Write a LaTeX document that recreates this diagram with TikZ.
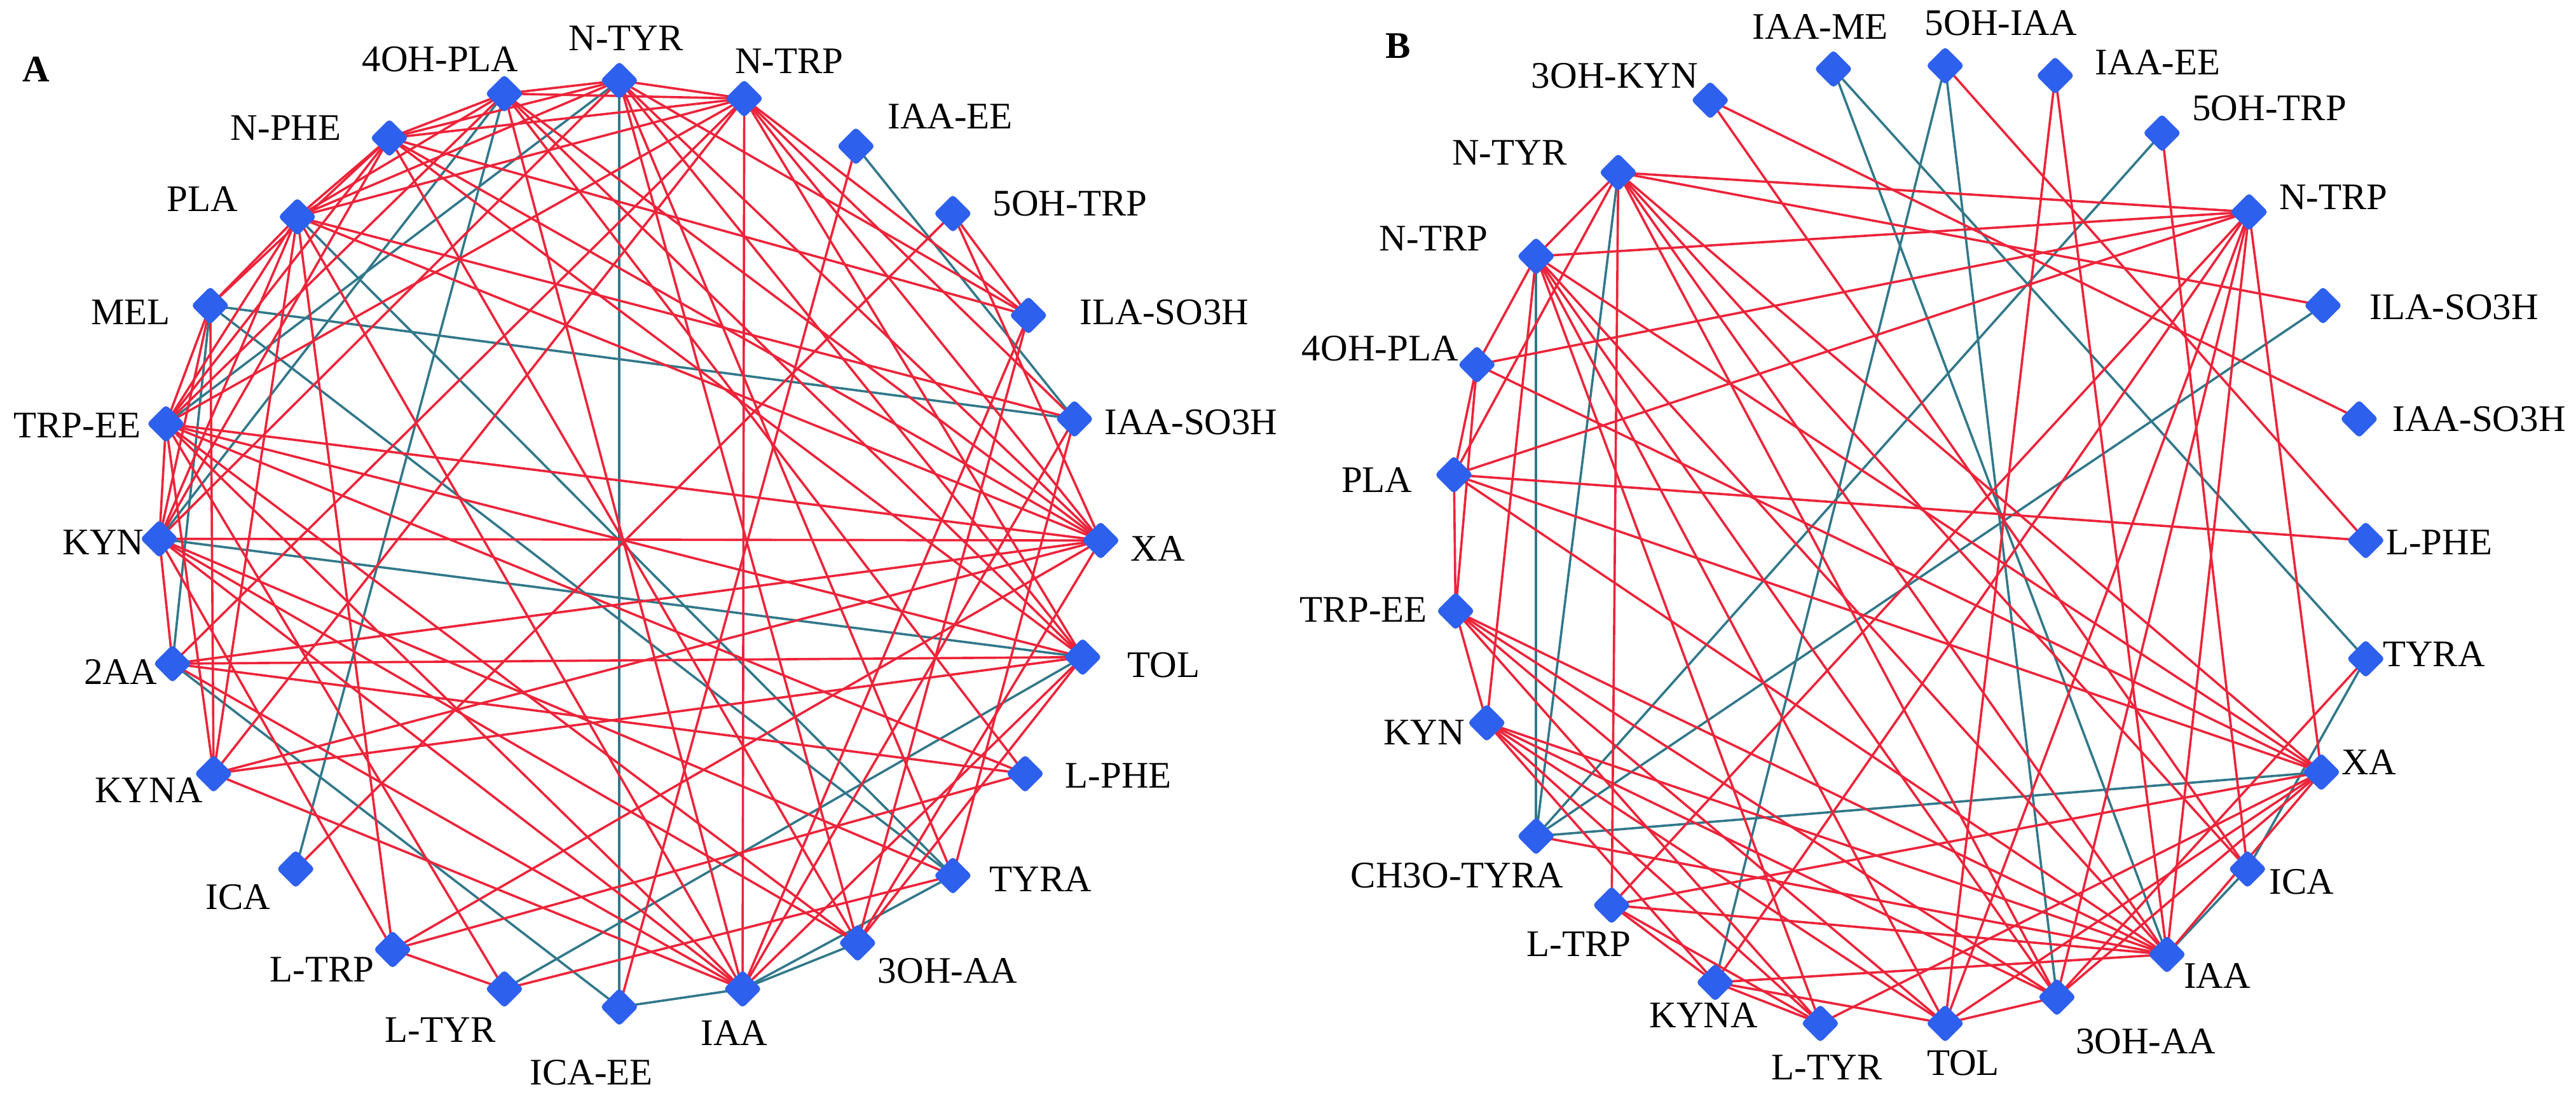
\documentclass[tikz,border=0pt]{standalone}
\usepackage{fontspec}
\setmainfont{Liberation Serif}
\usetikzlibrary{shapes.geometric,backgrounds}

\definecolor{nodeblue}{RGB}{46,96,238}
\definecolor{linkred}{RGB}{236,36,58}
\definecolor{linkteal}{RGB}{50,120,138}

\tikzset{
  met/.style={diamond,fill=nodeblue,inner sep=0pt,rounded corners=1.2pt,minimum width=0.47cm,minimum height=0.47cm},
  lab/.style={inner sep=0pt,font=\fontsize{13}{15}\selectfont},
  panel/.style={inner sep=0pt,font=\fontsize{13}{15}\selectfont\bfseries},
  poslink/.style={draw=linkred,line width=0.8pt},
  neglink/.style={draw=linkteal,line width=0.8pt}
}

\begin{document}
\begin{tikzpicture}[x=0.02cm,y=-0.02cm]
\useasboundingbox (0,0) rectangle (1568,670);

% panel A
\node[panel] (pA) at (22,42) {A};
\foreach \n/\x/\y/\lx/\ly/\an/\t in {
  aNTYR/377/49/381/31/south/N-TYR,
  aNTRP/453/60/447/45/south west/N-TRP,
  aIAAEE/521/89/540/71/west/IAA-EE,
  aOHTRP/580/130/604/124/west/5OH-TRP,
  aILA/626/192/657/190/west/ILA-SO3H,
  aIAASO/654/255/672/257/west/IAA-SO3H,
  aXA/670/329/688/334/west/XA,
  aTOL/659/400/686/405/west/TOL,
  aLPHE/624/471/648/472/west/L-PHE,
  aTYRA/580/533/602/535/west/TYRA,
  aOHAA/522/574/534/591/west/3OH-AA,
  aIAA/452/602/447/621/north/IAA,
  aICAEE/377/613/360/645/north/ICA-EE,
  aLTYR/307/602/268/619/north/L-TYR,
  aLTRP/239/578/228/590/east/L-TRP,
  aICA/180/529/145/538/north/ICA,
  aKYNA/130/471/124/481/east/KYNA,
  aAA/105/404/96/409/east/2AA,
  aKYN/97/328/88/330/east/KYN,
  aTRPEE/101/258/86/259/east/TRP-EE,
  aMEL/128/186/104/190/east/MEL,
  aPLA/181/132/145/121/east/PLA,
  aNPHE/237/84/208/78/east/N-PHE,
  aOHPLA/307/57/268/44/south/4OH-PLA}{
  \node[met] (\n) at (\x,\y) {};
  \node[lab,anchor=\an] (l\n) at (\lx,\ly) {\t};
}

% panel B
\node[panel] (pB) at (851,28) {B};
\foreach \n/\x/\y/\lx/\ly/\an/\t in {
  bOHKYN/1041/61/1034/54/south east/3OH-KYN,
  bIAAME/1116/42/1108/24/south/IAA-ME,
  bOHIAA/1184/40/1218/22/south/5OH-IAA,
  bIAAEE/1251/46/1275/38/west/IAA-EE,
  bOHTRP/1316/81/1334/66/west/5OH-TRP,
  bNTRPr/1369/129/1387/120/west/N-TRP,
  bILA/1414/186/1442/187/west/ILA-SO3H,
  bIAASO/1436/255/1456/255/west/IAA-SO3H,
  bLPHE/1440/329/1452/330/west/L-PHE,
  bTYRA/1440/401/1450/398/west/TYRA,
  bXA/1413/470/1425/464/west/XA,
  bICA/1368/529/1381/537/west/ICA,
  bIAA/1319/581/1329/594/west/IAA,
  bOHAA/1252/607/1306/626/north/3OH-AA,
  bTOL/1184/623/1195/639/north/TOL,
  bLTYR/1108/623/1112/642/north/L-TYR,
  bKYNA/1044/598/1037/610/north/KYNA,
  bLTRP/981/551/961/567/north/L-TRP,
  bCHO/935/509/887/525/north/CH3O-TYRA,
  bKYN/905/440/892/446/east/KYN,
  bTRPEE/886/372/869/371/east/TRP-EE,
  bPLA/885/289/860/292/east/PLA,
  bOHPLA/899/222/888/212/east/4OH-PLA,
  bNTRPl/935/156/906/145/east/N-TRP,
  bNTYR/985/105/954/93/east/N-TYR}{
  \node[met] (\n) at (\x,\y) {};
  \node[lab,anchor=\an] (l\n) at (\lx,\ly) {\t};
}

\begin{scope}[on background layer]
% negative links
\foreach \a/\b in {aNTYR/aICAEE, aMEL/aIAASO, aKYN/aTOL, aIAAEE/aIAASO,
  aOHPLA/aICA, aPLA/aTYRA, aMEL/aTYRA, aMEL/aAA, aAA/aICAEE, aLTYR/aTOL,
  aICAEE/aIAA, aIAA/aOHAA, aIAA/aTYRA, aNTYR/aTRPEE, aOHPLA/aKYN,
  bNTRPl/bCHO, bNTYR/bCHO, bOHTRP/bCHO, bILA/bCHO, bCHO/bXA,
  bIAAME/bIAA, bIAAME/bTYRA, bOHIAA/bKYNA, bOHIAA/bOHAA, bIAA/bICA,
  bICA/bTYRA}
  \draw[neglink] (\a.center) -- (\b.center);
% positive links
\foreach \a/\b in {aNTYR/aOHPLA, aNTYR/aNTRP, aNTYR/aNPHE, aNTYR/aPLA,
  aNTYR/aKYN, aNTYR/aXA, aNTYR/aTOL, aNTYR/aTYRA, aNTYR/aOHAA, aNTYR/aILA,
  aNTRP/aOHPLA, aNTRP/aNPHE, aNTRP/aPLA, aNTRP/aTRPEE, aNTRP/aIAA,
  aNTRP/aILA, aNTRP/aXA, aNTRP/aTOL, aNTRP/aAA, aNTRP/aIAASO, aNTRP/aKYNA,
  aOHPLA/aNPHE, aOHPLA/aXA, aOHPLA/aTOL, aOHPLA/aIAA, aOHPLA/aLPHE,
  aOHPLA/aTRPEE, aOHPLA/aPLA,
  aNPHE/aPLA, aNPHE/aXA, aNPHE/aTOL, aNPHE/aOHAA, aNPHE/aMEL,
  aNPHE/aTRPEE, aNPHE/aKYN, aNPHE/aILA,
  aPLA/aMEL, aPLA/aTRPEE, aPLA/aKYN, aPLA/aXA, aPLA/aIAA, aPLA/aLTRP,
  aPLA/aIAASO,
  aMEL/aTRPEE, aMEL/aKYN, aMEL/aKYNA,
  aTRPEE/aKYN, aTRPEE/aXA, aTRPEE/aTOL, aTRPEE/aLPHE, aTRPEE/aOHAA,
  aTRPEE/aKYNA, aTRPEE/aIAA, aTRPEE/aLTYR,
  aKYN/aXA, aKYN/aAA, aKYN/aLTRP, aKYN/aTYRA, aKYN/aOHAA, aKYN/aIAA,
  aAA/aXA, aAA/aTOL, aAA/aIAA, aAA/aLPHE,
  aKYNA/aXA, aKYNA/aTOL, aKYNA/aIAA, aKYNA/aPLA,
  aLTRP/aLTYR, aLTRP/aLPHE, aLTRP/aXA, aLTYR/aTYRA,
  aICA/aOHTRP, aIAAEE/aICAEE, aOHTRP/aILA, aOHTRP/aXA,
  aILA/aOHAA, aILA/aIAA, aIAASO/aTYRA, aIAASO/aIAA,
  aXA/aOHAA, aTOL/aOHAA, aTOL/aIAA,
  bNTYR/bNTRPr, bNTYR/bILA, bNTYR/bNTRPl, bNTYR/bPLA, bNTYR/bLTRP,
  bNTYR/bXA, bNTYR/bICA, bNTYR/bOHAA, bNTYR/bIAA,
  bOHKYN/bIAASO, bOHKYN/bICA, bIAAEE/bTOL, bIAAEE/bIAA,
  bOHIAA/bLPHE, bOHTRP/bICA,
  bNTRPr/bNTRPl, bNTRPr/bOHPLA, bNTRPr/bPLA, bNTRPr/bLTRP, bNTRPr/bKYNA,
  bNTRPr/bTOL, bNTRPr/bIAA, bNTRPr/bXA, bNTRPr/bOHAA,
  bNTRPl/bOHPLA, bNTRPl/bLTYR, bNTRPl/bOHAA, bNTRPl/bIAA, bNTRPl/bXA,
  bNTRPl/bTOL,
  bOHPLA/bPLA, bOHPLA/bXA, bOHPLA/bTRPEE,
  bPLA/bLPHE, bPLA/bTRPEE, bPLA/bIAA, bPLA/bXA,
  bTRPEE/bKYN, bTRPEE/bLTYR, bTRPEE/bTOL, bTRPEE/bOHAA, bTRPEE/bIAA,
  bKYN/bNTRPl, bKYN/bKYNA, bKYN/bLTYR, bKYN/bTOL, bKYN/bOHAA, bKYN/bIAA,
  bCHO/bIAA, bLTRP/bXA, bLTRP/bLTYR, bLTRP/bKYNA, bLTRP/bIAA,
  bKYNA/bLTYR, bKYNA/bTOL, bKYNA/bIAA, bLTYR/bXA,
  bTOL/bOHAA, bTOL/bXA, bOHAA/bXA, bIAA/bXA, bTYRA/bOHAA}
  \draw[poslink] (\a.center) -- (\b.center);
\end{scope}
\end{tikzpicture}
\end{document}
